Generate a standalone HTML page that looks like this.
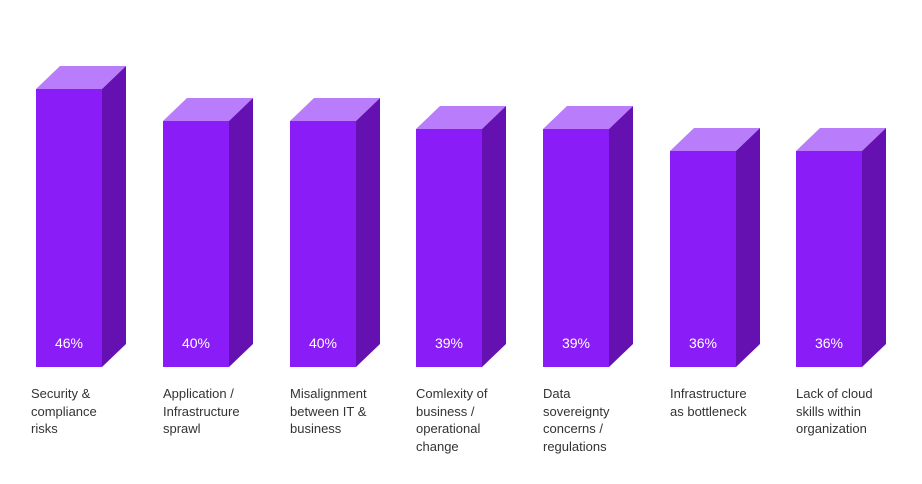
<!DOCTYPE html><html><head><style>
body{margin:0;width:922px;height:484px;background:#fff;overflow:hidden;font-family:"Liberation Sans",sans-serif}
.l{position:absolute;font-size:13px;line-height:17.5px;color:#333;top:385px}
</style></head><body>
<svg width="922" height="484" style="position:absolute;left:0;top:0">
<g id="bars"></g>
</svg>
<script>
var xs=[36,163,290,416,543,670,796],ts=[89,121,121,129,129,151,151],v=["46%","40%","40%","39%","39%","36%","36%"];
var s="",B=367,W=66,dx=24,dy=23;
for(var i=0;i<7;i++){var x=xs[i],t=ts[i];
s+=`<polygon points="${x},${t} ${x+dx},${t-dy} ${x+W+dx},${t-dy} ${x+W},${t}" fill="#b97cfb"/>`;
s+=`<polygon points="${x+W},${t} ${x+W+dx},${t-dy} ${x+W+dx},${B-dy} ${x+W},${B}" fill="#6511b2"/>`;
s+=`<rect x="${x}" y="${t}" width="${W}" height="${B-t}" fill="#8a1cf7"/>`;
s+=`<text x="${x+W/2}" y="348" fill="#fff" font-size="14" text-anchor="middle" font-family="Liberation Sans">${v[i]}</text>`;}
document.getElementById("bars").innerHTML=s;
</script>
<div class="l" style="left:31px">Security &amp;<br>compliance<br>risks</div>
<div class="l" style="left:163px">Application /<br>Infrastructure<br>sprawl</div>
<div class="l" style="left:290px">Misalignment<br>between IT &amp;<br>business</div>
<div class="l" style="left:416px">Comlexity of<br>business /<br>operational<br>change</div>
<div class="l" style="left:543px">Data<br>sovereignty<br>concerns /<br>regulations</div>
<div class="l" style="left:670px">Infrastructure<br>as bottleneck</div>
<div class="l" style="left:796px">Lack of cloud<br>skills within<br>organization</div>
</body></html>
